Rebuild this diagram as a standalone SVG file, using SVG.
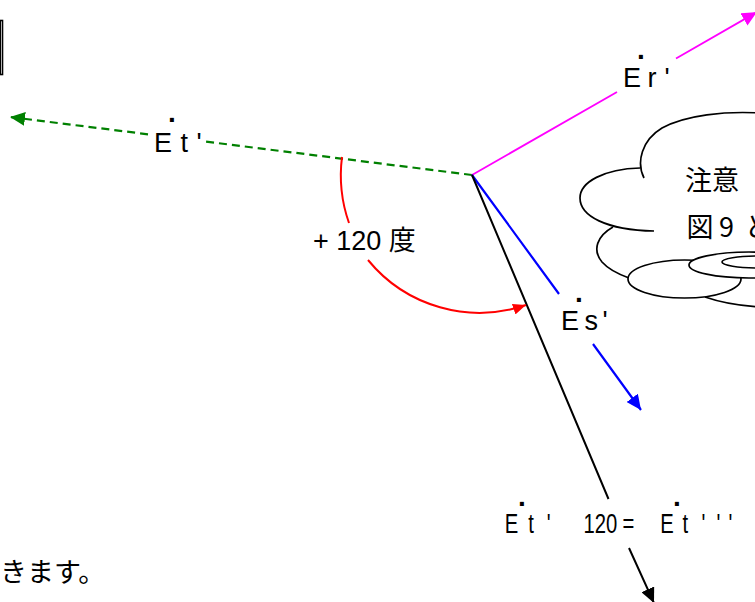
<svg xmlns="http://www.w3.org/2000/svg" width="755" height="602" viewBox="0 0 755 602">
<style>
.lbl{font-family:"Liberation Sans",Arial,"Noto Sans CJK JP",sans-serif;font-size:27px;fill:#000}
.dot{font-family:"Liberation Sans",Arial,sans-serif;font-size:28px;font-weight:bold;fill:#000}
.jp{font-family:"Noto Sans CJK JP","Liberation Sans",sans-serif;font-size:27px;fill:#000}
.cl{fill:none;stroke:#000;stroke-width:1.7}
.clw{fill:#fff;stroke:#000;stroke-width:1.7}
</style>
<defs>
<marker id="ag" markerUnits="userSpaceOnUse" markerWidth="16" markerHeight="14" viewBox="0 0 16 14" refX="15" refY="7" orient="auto"><path d="M0,0 L15,7 L0,14 z" fill="#008000"/></marker>
<marker id="am" markerUnits="userSpaceOnUse" markerWidth="16" markerHeight="14" viewBox="0 0 16 14" refX="15" refY="7" orient="auto"><path d="M0,0 L15,7 L0,14 z" fill="#ff00ff"/></marker>
<marker id="ab" markerUnits="userSpaceOnUse" markerWidth="16" markerHeight="14" viewBox="0 0 16 14" refX="15" refY="7" orient="auto"><path d="M0,0 L15,7 L0,14 z" fill="#0000ff"/></marker>
<marker id="ak" markerUnits="userSpaceOnUse" markerWidth="16" markerHeight="14" viewBox="0 0 16 14" refX="15" refY="7" orient="auto"><path d="M0,0 L15,7 L0,14 z" fill="#000"/></marker>
<marker id="ar" markerUnits="userSpaceOnUse" markerWidth="14" markerHeight="11" viewBox="0 0 14 11" refX="13" refY="5.5" orient="auto"><path d="M0,0 L13,5.5 L0,11 z" fill="#ff0000"/></marker>
</defs>
<rect width="755" height="602" fill="#fff"/>

<g id="frame">
<rect x="-20" y="20.5" width="22.5" height="54" fill="none" stroke="#000" stroke-width="1.6"/>
<line x1="0.3" y1="21" x2="0.3" y2="74" stroke="#000" stroke-width="1.4"/>
</g>

<g id="cloud">
<path class="cl" d="M644,178 C636,162 642,140 662,128 C686,115 725,111 760,113"/>
<path class="cl" d="M640,168 C604,169 580,182 580,198 C580,216 606,230 654,231"/>
<path class="cl" d="M613,227 C597,236 592,250 602,262 C609,270 618,274 629,278"/>
<path class="cl" d="M705,297 Q728,305 760,307"/>
<ellipse class="clw" cx="684.5" cy="279" rx="56.5" ry="19"/>
<ellipse class="clw" cx="749" cy="265" rx="60" ry="13"/>
<ellipse class="clw" cx="758" cy="262" rx="36" ry="6"/>
<text class="jp" x="685" y="190">注意</text>
<text class="jp" y="236.5"><tspan x="686.5">図</tspan> <tspan x="719">9</tspan> <tspan x="744.5">と</tspan></text>
</g>

<g id="connectors">
<path d="M472,175 L205,141.5 M148,134.3 L10,117" fill="none" stroke="#008000" stroke-width="2.2" stroke-dasharray="8 5" marker-end="url(#ag)"/>
<path d="M472,175 L617,92 M676,58.5 L757,12" fill="none" stroke="#ff00ff" stroke-width="1.8" marker-end="url(#am)"/>
<path d="M472,175 L559,294 M593,344 L641,410" fill="none" stroke="#0000ff" stroke-width="2.2" marker-end="url(#ab)"/>
<path d="M472,175 L608.5,499 M629,548 L654,603" fill="none" stroke="#000" stroke-width="2" marker-end="url(#ak)"/>
<path d="M342,157 A144,144 0 0 0 349,223" fill="none" stroke="#ff0000" stroke-width="2"/>
<path d="M368,260 A144,144 0 0 0 526,305" fill="none" stroke="#ff0000" stroke-width="2" marker-end="url(#ar)"/>
</g>

<g id="label-Et">
<text class="dot" x="168" y="122">.</text>
<text class="lbl" y="152"><tspan x="154">E</tspan> <tspan x="180.5">t</tspan> <tspan x="196.5">'</tspan></text>
</g>

<g id="label-Er">
<text class="dot" x="637" y="59">.</text>
<text class="lbl" y="87"><tspan x="623">E</tspan> <tspan x="647.5">r</tspan> <tspan x="664.5">'</tspan></text>
</g>

<g id="label-Es">
<text class="dot" x="575" y="302">.</text>
<text class="lbl" y="330"><tspan x="561">E</tspan> <tspan x="584.5">s</tspan> <tspan x="602.5">'</tspan></text>
</g>

<g id="label-angle">
<text class="lbl" x="313" y="250">+ 120 度</text>
</g>

<g id="label-Et3">
<text class="dot" x="518" y="506">.</text>
<text class="dot" x="673" y="506">.</text>
<text class="lbl" y="533" transform="scale(0.75,1)"><tspan x="673">E</tspan> <tspan x="704.5">t</tspan> <tspan x="729">'</tspan> <tspan x="778">120</tspan> <tspan x="830">=</tspan> <tspan x="880.5">E</tspan> <tspan x="910">t</tspan> <tspan x="935.5">'</tspan> <tspan x="955.5">'</tspan> <tspan x="971.5">'</tspan></text>
</g>

<g id="text-bottom">
<text class="jp" x="0" y="581.5">きます。</text>
</g>
</svg>
